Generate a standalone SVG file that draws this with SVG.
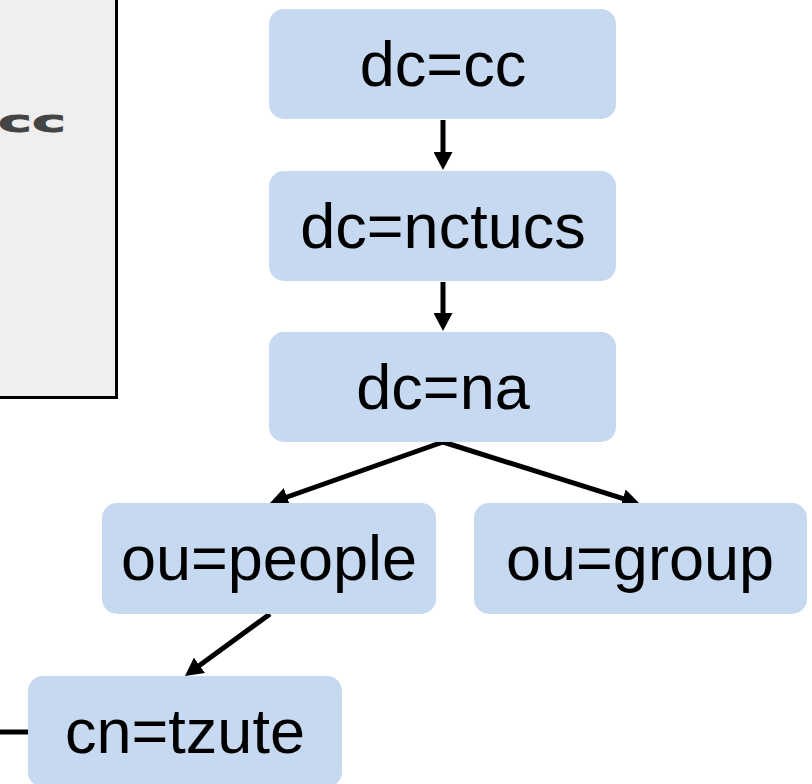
<svg xmlns="http://www.w3.org/2000/svg" width="812" height="784" viewBox="0 0 812 784">
<defs>
<style>
.node rect{fill:#c6d9f0;}
.node text{font-family:"Liberation Sans",Arial,sans-serif;font-size:63px;fill:#000;text-anchor:middle;}
.conn line{stroke:#000;stroke-width:5;fill:none;}
.arr{marker-end:url(#ah);}
</style>
<marker id="ah" markerUnits="userSpaceOnUse" markerWidth="18" markerHeight="19" refX="12" refY="9.5" orient="auto">
<path d="M0,0 L18,9.5 L0,19 z" fill="#000"/>
</marker>
</defs>
<rect width="812" height="784" fill="#fff"/>
<g id="side-panel">
<rect x="-20" y="-20" width="136.5" height="417.5" fill="#efefef" stroke="#000" stroke-width="3"/>
<text transform="scale(1.85,1)" x="35.7" y="132" font-family="'DejaVu Sans',sans-serif" font-weight="bold" font-size="31" fill="#444" stroke="#444" stroke-width="0.8" text-anchor="end">cc</text>
</g>
<g id="connectors" class="conn">
<line class="arr" x1="443" y1="120" x2="443" y2="164"/>
<line class="arr" x1="443" y1="282" x2="443" y2="325"/>
<line class="arr" x1="443" y1="442" x2="275.7" y2="501"/>
<line class="arr" x1="443" y1="442" x2="634.3" y2="502.2"/>
<line class="arr" x1="270" y1="614" x2="189.8" y2="672.4"/>
<line x1="0" y1="732" x2="28" y2="732"/>
</g>
<g id="n-dc-cc" class="node">
<rect x="269" y="9" width="347" height="110" rx="15"/>
<text x="443" y="86">dc=cc</text>
</g>
<g id="n-dc-nctucs" class="node">
<rect x="269" y="171" width="347" height="110" rx="15"/>
<text x="443" y="248">dc=nctucs</text>
</g>
<g id="n-dc-na" class="node">
<rect x="269" y="332" width="347" height="110" rx="15"/>
<text x="443" y="409">dc=na</text>
</g>
<g id="n-ou-people" class="node">
<rect x="102" y="503" width="334" height="111" rx="15"/>
<text x="269" y="580">ou=people</text>
</g>
<g id="n-ou-group" class="node">
<rect x="474" y="503" width="333" height="111" rx="15"/>
<text x="640" y="580">ou=group</text>
</g>
<g id="n-cn-tzute" class="node">
<rect x="28" y="676" width="314" height="111" rx="15"/>
<text x="185" y="753">cn=tzute</text>
</g>
</svg>
